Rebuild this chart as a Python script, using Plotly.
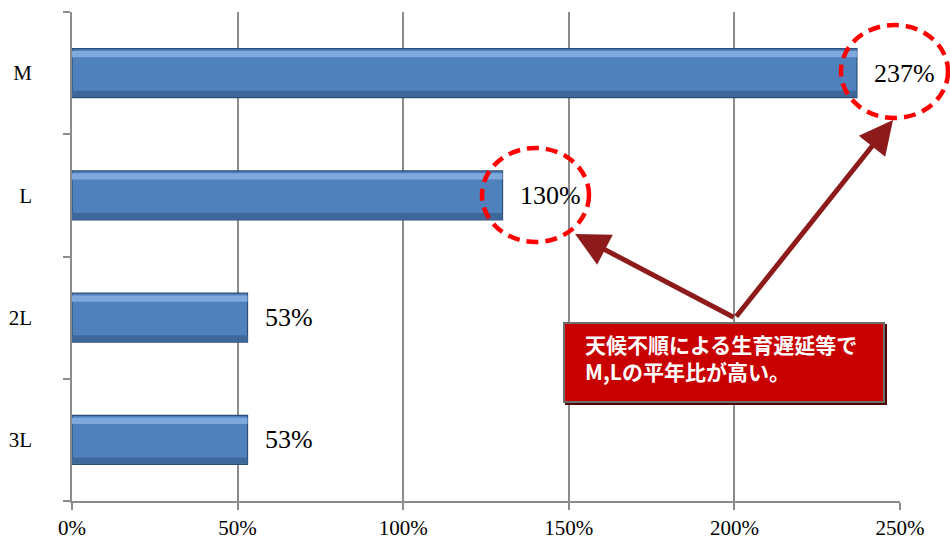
import plotly.graph_objects as go

# ---- data ----
categories = ["M", "L", "2L", "3L"]
values = [237, 130, 53, 53]
value_labels = ["237%", "130%", "53%", "53%"]
x_tick_vals = [0, 50, 100, 150, 200, 250]
x_tick_text = ["0%", "50%", "100%", "150%", "200%", "250%"]
note_text = "天候不順による生育遅延等で<br>M,Lの平年比が高い。"

cat_order = categories[::-1]  # bottom -> top

fig = go.Figure()

# main bar
fig.add_trace(go.Bar(
    y=categories, x=values, orientation="h", width=0.40,
    marker=dict(color="#4F81BD", line=dict(color="#2C4D75", width=1.2)),
    hoverinfo="skip", showlegend=False,
))
# top highlight (bevel)
fig.add_trace(go.Bar(
    y=categories, x=values, orientation="h", width=0.05, offset=0.13,
    marker=dict(color="#7FA8DC", line=dict(width=0)),
    hoverinfo="skip", showlegend=False,
))
# bottom shade (bevel)
fig.add_trace(go.Bar(
    y=categories, x=values, orientation="h", width=0.05, offset=-0.195,
    marker=dict(color="#3E6899", line=dict(width=0)),
    hoverinfo="skip", showlegend=False,
))

annotations = []
for c, v, t in zip(categories, values, value_labels):
    annotations.append(dict(
        x=v, y=c, xref="x", yref="y", text=t, showarrow=False,
        xanchor="left", xshift=15,
        font=dict(family="Liberation Serif", size=26, color="black"),
    ))

# arrows from the note box to the circled labels
arrow_tail = (200.2, 0.997)
for tip in [(151.9, 1.684), (247.9, 2.617)]:
    annotations.append(dict(
        x=tip[0], y=tip[1], xref="x", yref="y",
        ax=arrow_tail[0], ay=arrow_tail[1], axref="x", ayref="y",
        showarrow=True, arrowhead=2, arrowsize=1.35, arrowwidth=5,
        arrowcolor="#8E1B1B", text="",
    ))

# note box (shadow, box, text)
annotations.append(dict(
    x=196.9, y=0.633, xref="x", yref="y", text=" ",
    showarrow=False, width=318, height=77, borderpad=0,
    xshift=2, yshift=-2,
    bgcolor="#4A0000", bordercolor="#4A0000", borderwidth=2,
    xanchor="center", yanchor="middle",
))
annotations.append(dict(
    x=196.9, y=0.633, xref="x", yref="y", text=" ",
    showarrow=False, width=318, height=77, borderpad=0,
    bgcolor="#C80000", bordercolor="#6E6E6E", borderwidth=2,
    xanchor="center", yanchor="middle",
))
annotations.append(dict(
    x=154.3, y=0.67, xref="x", yref="y", text="<b>" + note_text + "</b>",
    showarrow=False, align="left",
    font=dict(family="Noto Sans CJK JP", size=21, color="white"),
    xanchor="left", yanchor="middle",
))

shapes = [
    dict(type="circle", xref="paper", yref="paper",
         x0=0.9287, x1=1.058, y0=0.7832, y1=0.9734,
         line=dict(color="#FF0000", width=4.5, dash="12px,7px")),
    dict(type="circle", xref="paper", yref="paper",
         x0=0.4952, x1=0.6244, y0=0.5297, y1=0.7219,
         line=dict(color="#FF0000", width=4.5, dash="12px,7px")),
]

fig.update_layout(
    width=950, height=540,
    margin=dict(l=72, r=50, t=12, b=39),
    paper_bgcolor="white", plot_bgcolor="white",
    barmode="overlay",
    showlegend=False,
    annotations=annotations,
    shapes=shapes,
    xaxis=dict(
        range=[0, 250], tickvals=x_tick_vals, ticktext=x_tick_text,
        automargin=False,
        showgrid=True, gridcolor="#8C8C8C", gridwidth=1.5,
        showline=True, linecolor="#8C8C8C", linewidth=1.5,
        ticks="outside", ticklen=7, tickcolor="#8C8C8C", tickwidth=1.5,
        zeroline=False,
        tickfont=dict(family="Liberation Serif", size=21, color="black"),
    ),
    yaxis=dict(
        type="category", categoryorder="array", categoryarray=cat_order,
        range=[-0.5, 3.5], automargin=False,
        showgrid=False, showline=True, linecolor="#8C8C8C", linewidth=1.5,
        ticks="outside", tickson="boundaries", ticklen=7,
        tickcolor="#8C8C8C", tickwidth=1.5,
        ticklabelstandoff=34,
        tickfont=dict(family="Liberation Serif", size=21, color="black"),
    ),
)

fig.write_html(
    "out.html",
    config={"displayModeBar": False},
    post_script="document.body.style.margin='0';document.body.style.overflow='hidden';",
)
